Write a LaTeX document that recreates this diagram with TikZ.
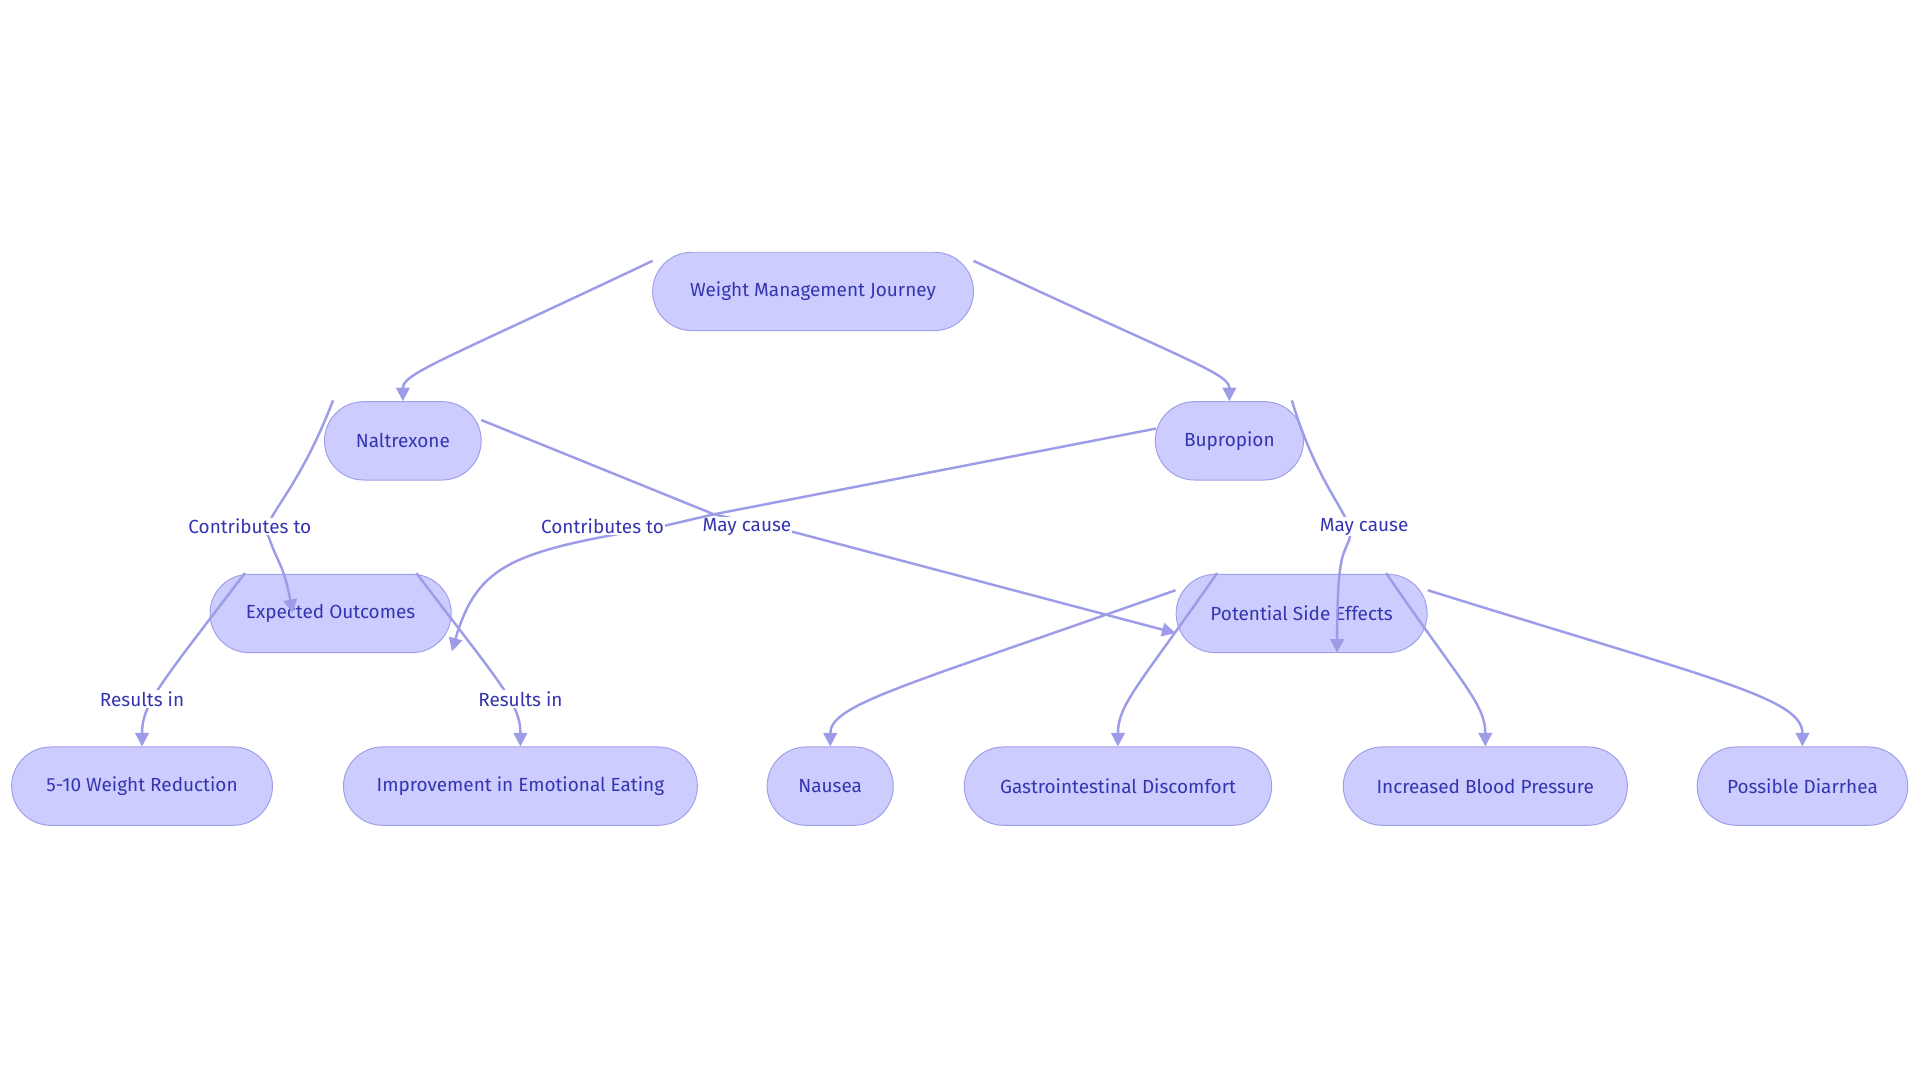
\documentclass[tikz,border=0pt]{standalone}
\usepackage{fontspec}
\setmainfont{Fira Sans}
\usetikzlibrary{arrows.meta}
\definecolor{nfill}{HTML}{CCCCFF}
\definecolor{ndraw}{HTML}{9F9FE8}
\definecolor{ntext}{HTML}{3535B0}
\definecolor{edge}{HTML}{9C9CE8}
\begin{document}
\begin{tikzpicture}[x=1pt,y=-1pt,
  n/.style={draw=ndraw,fill=nfill,rounded corners=32pt,minimum height=64pt,text=ntext,font=\fontsize{15.5}{18}\selectfont,line width=0.8pt,inner sep=0pt},
  e/.style={draw=edge,line width=2pt,-{Triangle[length=11pt,width=11pt]}},
  l/.style={fill=white,text=ntext,font=\fontsize{15.5}{18}\selectfont,inner sep=1pt}]
\useasboundingbox (0,0) rectangle (1568,884);
\node[n,minimum width=262pt] (wmj) at (664,238) {Weight Management Journey};
\node[n,minimum width=128pt] (nal) at (329,360) {Naltrexone};
\node[n,minimum width=121pt] (bup) at (1004,360) {Bupropion};
\node[n,minimum width=197pt] (eo) at (270,501) {Expected Outcomes};
\node[n,minimum width=205pt] (pse) at (1063,501) {Potential Side Effects};
\node[n,minimum width=213pt] (wr) at (116,642) {5-10 Weight Reduction};
\node[n,minimum width=289pt] (iee) at (425,642) {Improvement in Emotional Eating};
\node[n,minimum width=103pt] (nau) at (678,642) {Nausea};
\node[n,minimum width=251pt] (gi) at (913,642) {Gastrointestinal Discomfort};
\node[n,minimum width=232pt] (ibp) at (1213,642) {Increased Blood Pressure};
\node[n,minimum width=172pt] (pd) at (1472,642) {Possible Diarrhea};
% top
\draw[e] ([xshift=-131pt,yshift=25pt]wmj.center) .. controls (360,295) and (329,305) .. (nal.north);
\draw[e] ([xshift=131pt,yshift=25pt]wmj.center) .. controls (970,295) and (1004,305) .. (bup.north);
% crossing edges
\draw[e] ([xshift=64pt,yshift=17pt]nal.center) -- (583,420) -- (650,435) -- ([xshift=-103pt,yshift=-16pt]pse.center);
\node[l] (mc1) at (610,430) {May cause};
\draw[e] ([xshift=-60pt,yshift=10pt]bup.center) -- (583,420) -- (540,430) .. controls (420,450) and (390,460) .. ([xshift=99pt,yshift=-31pt]eo.center);
\node[l] (ct2) at (492,430) {Contributes to};
\draw[e] ([xshift=-57pt,yshift=33pt]nal.center) .. controls (240,410) and (210,425) .. (220,440) .. controls (226,458) and (232,462) .. ([xshift=-31pt,yshift=-32pt]eo.north);
\node[l] (ct1) at (204,430) {Contributes to};
\draw[e] ([xshift=51pt,yshift=33pt]bup.center) .. controls (1080,410) and (1112,425) .. (1100,445) .. controls (1096,455) and (1092,460) .. ([xshift=29pt,yshift=-32pt]pse.center);
\node[l] (mc2) at (1114,430) {May cause};
% results
\draw[e] ([xshift=-70pt,yshift=33pt]eo.center) .. controls (130,560) and (116,575) .. (wr.north);
\node[l] (ri1) at (116,571) {Results in};
\draw[e] ([xshift=70pt,yshift=33pt]eo.center) .. controls (410,560) and (425,575) .. (iee.north);
\node[l] (ri2) at (425,571) {Results in};
% side effects
\draw[e] ([xshift=-103pt,yshift=19pt]pse.center) .. controls (740,560) and (678,575) .. (nau.north);
\draw[e] ([xshift=-69pt,yshift=33pt]pse.center) .. controls (930,560) and (913,575) .. (gi.north);
\draw[e] ([xshift=69pt,yshift=33pt]pse.center) .. controls (1195,560) and (1213,575) .. (ibp.north);
\draw[e] ([xshift=103pt,yshift=19pt]pse.center) .. controls (1400,555) and (1472,570) .. (pd.north);
\end{tikzpicture}
\end{document}
